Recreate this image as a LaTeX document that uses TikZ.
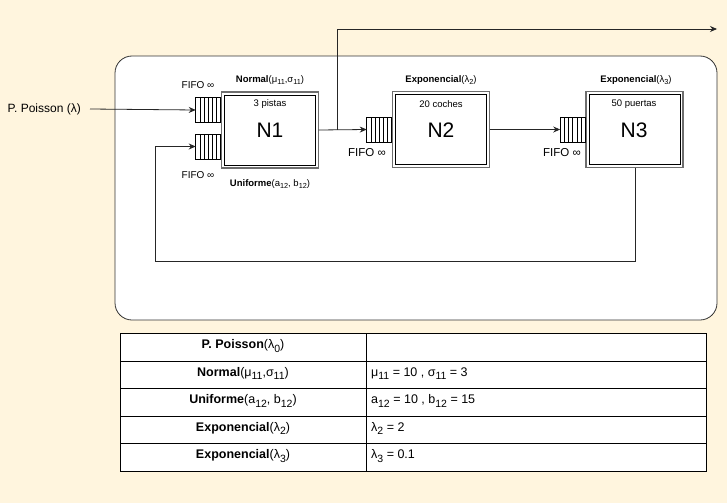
\documentclass[tikz,border=0pt]{standalone}
\usepackage{fontspec}
\setmainfont{Liberation Sans}
\usetikzlibrary{calc,arrows.meta}
\newcommand\lsub[1]{\raisebox{-2.2pt}{\fontsize{7.3}{8}\selectfont #1}}
\newcommand\tsub[1]{\raisebox{-3.2pt}{\fontsize{10.5}{12}\selectfont #1}}
\definecolor{bgcream}{RGB}{255,245,222}
\definecolor{dgray}{RGB}{110,110,110}
\tikzset{
  px/.style={x=1pt,y=-1pt},
  lbl/.style={inner sep=0pt,font=\fontsize{9.5}{11}\selectfont},
  fifo/.style={inner sep=0pt,font=\fontsize{10}{12}\selectfont},
  fifob/.style={inner sep=0pt,font=\fontsize{11.5}{13}\selectfont},
  bigname/.style={inner sep=0pt,font=\fontsize{21}{24}\selectfont},
  station/.style={draw=dgray,line width=1.6pt,fill=white,minimum width=97pt,minimum height=76pt,inner sep=0pt,outer sep=0pt},
  queuebox/.style={draw,line width=0.6pt,fill=white,minimum width=25pt,minimum height=25pt,inner sep=0pt,outer sep=0pt},
  conn/.style={line width=0.8pt,draw=black!85},
  arr/.style={conn,-{Stealth[length=7pt,width=6pt]}},
  cell/.style={font=\fontsize{12.5}{14}\selectfont,inner sep=0pt},
}
\begin{document}
\begin{tikzpicture}[px]
\useasboundingbox (0,0) rectangle (727,503);
\fill[bgcream] (0,0) rectangle (727,503);
% container
\draw[fill=white,draw=black!80,line width=0.8pt,rounded corners=17pt] (115,56) rectangle (717,320);
% stations
\node[station] (n1) at (270,130) {};
\node[station] (n2) at (441,129.5) {};
\node[station] (n3) at (634.5,129.5) {};
\foreach \n in {n1,n2,n3}{
  \draw[black,line width=0.8pt] ($(\n.south west)+(3,-3)$) rectangle ($(\n.north east)+(-3,3)$);
}
% queues
\node[queuebox,anchor=east] (q1a) at ($(n1.west)+(-0.8,-20)$) {};
\node[queuebox,anchor=east] (q1b) at ($(n1.west)+(-0.8,16.5)$) {};
\node[queuebox,anchor=east] (q2) at ($(n2.west)+(-0.8,0)$) {};
\node[queuebox,anchor=east] (q3) at ($(n3.west)+(-0.8,0)$) {};
\foreach \q in {q1a,q1b,q2,q3}{
  \foreach \i in {1,...,5}{
    \draw[line width=0.6pt] ($(\q.south west)!\i/6!(\q.south east)$) -- ($(\q.north west)!\i/6!(\q.north east)$);
  }
}
% station texts
\node[lbl] (t1) at (270,104) {3 pistas};
\node[bigname] (m1) at (270,130) {N1};
\node[lbl] (t2) at (441,104) {20 coches};
\node[bigname] (m2) at (441,130) {N2};
\node[lbl] (t3) at (634,104) {50 puertas};
\node[bigname] (m3) at (634,130) {N3};
% distribution labels
\node[lbl] (d1) at (270,80) {\textbf{Normal}(μ\lsub{11},σ\lsub{11})};
\node[lbl] (d1b) at (270,184) {\textbf{Uniforme}(a\lsub{12}, b\lsub{12})};
\node[lbl] (d2) at (441,80) {\textbf{Exponencial}(λ\lsub{2})};
\node[lbl] (d3) at (636,80) {\textbf{Exponencial}(λ\lsub{3})};
% fifo labels
\node[fifo] (f1a) at (198,85.5) {FIFO ∞};
\node[fifo] (f1b) at (198,175) {FIFO ∞};
\node[fifob] (f2) at (367,152.5) {FIFO ∞};
\node[fifob] (f3) at (562,152.5) {FIFO ∞};
% source
\node[inner sep=0pt,font=\fontsize{12}{14}\selectfont,anchor=east] (src) at (81,109) {P. Poisson (λ)};
\draw[arr] ($(src.east)+(9,0)$) -- (q1a.west);
% flows
\draw[arr] (n1.east) -- (q2.west);
\coordinate (br) at ($(n1.east)!0.4!(q2.west)$);
\coordinate (out) at (717,29);
\draw[arr] (br) |- (out);
\draw[arr] (n2.east) -- (q3.west);
\coordinate (fb1) at (635,261);
\coordinate (fb2) at (155,261);
\draw[arr] (n3.south -| fb1) -- (fb1) -- (fb2) |- (q1b.west);
% table
\draw[fill=white,line width=0.8pt] (120.5,333.5) rectangle (706,471);
\foreach \y in {361,388.5,416,443.5}{\draw[line width=0.8pt] (120.5,\y) -- (706,\y);}
\draw[line width=0.8pt] (366,333.5) -- (366,471);
\node[cell] (c1) at (243,346) {\textbf{P. Poisson}(λ\tsub{0})};
\node[cell] (c2) at (243,373.5) {\textbf{Normal}(μ\tsub{11},σ\tsub{11})};
\node[cell] (c3) at (243,401) {\textbf{Uniforme}(a\tsub{12}, b\tsub{12})};
\node[cell] (c4) at (243,428.5) {\textbf{Exponencial}(λ\tsub{2})};
\node[cell] (c5) at (243,456) {\textbf{Exponencial}(λ\tsub{3})};
\node[cell,anchor=west] (v2) at (371,373.5) {μ\tsub{11} = 10 , σ\tsub{11} = 3};
\node[cell,anchor=west] (v3) at (371,401) {a\tsub{12} = 10 , b\tsub{12} = 15};
\node[cell,anchor=west] (v4) at (371,428.5) {λ\tsub{2} = 2};
\node[cell,anchor=west] (v5) at (371,456) {λ\tsub{3} = 0.1};
\end{tikzpicture}
\end{document}
